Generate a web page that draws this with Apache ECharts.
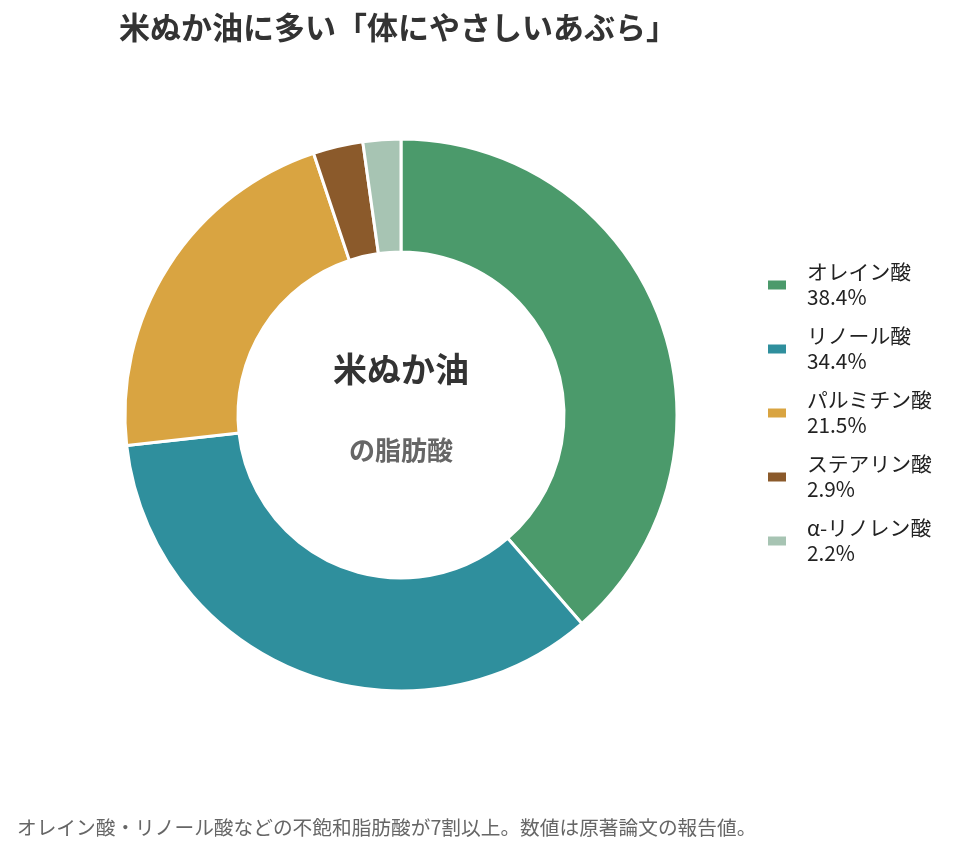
<!DOCTYPE html>
<html>
<head>
<meta charset="utf-8">
<script src="https://cdn.jsdelivr.net/npm/echarts@6/dist/echarts.min.js"></script>
<style>
  html, body { margin: 0; padding: 0; background: #fff; }
  #chart { width: 956px; height: 854px; }
</style>
</head>
<body>
<div id="chart"></div>
<script>
  // 脂肪酸の構成（%）
  var acidNames = ['オレイン酸', 'リノール酸', 'パルミチン酸', 'ステアリン酸', 'α-リノレン酸'];
  var acidValues = [38.4, 34.4, 21.5, 2.9, 2.2];
  var acidColors = ['#4b9a6b', '#2f8f9d', '#d9a441', '#8b5a2b', '#a7c4b3'];

  var FONT = '"Noto Sans CJK JP", "Noto Sans", sans-serif';

  var pieData = acidNames.map(function (n, i) {
    return { name: n, value: acidValues[i], itemStyle: { color: acidColors[i] } };
  });

  var myChart = echarts.init(document.getElementById('chart'));

  var option = {
    backgroundColor: '#ffffff',
    animation: false,
    title: {
      text: '米ぬか油に多い「体にやさしいあぶら」',
      left: 114,
      top: 7,
      textStyle: { fontFamily: FONT, fontSize: 31, fontWeight: 'bold', color: '#333333' }
    },
    legend: {
      orient: 'vertical',
      left: 761,
      top: 255,
      itemWidth: 20,
      itemHeight: 11,
      itemGap: 14,
      icon: 'rect',
      formatter: function (name) {
        var i = acidNames.indexOf(name);
        return name + '\n' + acidValues[i] + '%';
      },
      textStyle: { fontFamily: FONT, fontSize: 20.8, color: '#222222', lineHeight: 25, padding: [0, 0, 0, 15] }
    },
    graphic: [
      {
        type: 'text',
        x: 401, y: 369,
        style: {
          text: '米ぬか油', fontFamily: FONT, fontSize: 34, fontWeight: 'bold',
          fill: '#333333', align: 'center', verticalAlign: 'middle'
        }
      },
      {
        type: 'text',
        x: 401, y: 450,
        style: {
          text: 'の脂肪酸', fontFamily: FONT, fontSize: 26, fontWeight: 'bold',
          fill: '#666666', align: 'center', verticalAlign: 'middle'
        }
      },
      {
        type: 'text',
        x: 17, y: 828,
        style: {
          text: 'オレイン酸・リノール酸などの不飽和脂肪酸が7割以上。数値は原著論文の報告値。',
          fontFamily: FONT, fontSize: 19.7, fill: '#666666', align: 'left', verticalAlign: 'middle'
        }
      }
    ],
    series: [
      {
        type: 'pie',
        center: [401, 415],
        radius: [163, 276],
        startAngle: 90,
        clockwise: true,
        label: { show: false },
        labelLine: { show: false },
        itemStyle: { borderColor: '#ffffff', borderWidth: 3 },
        emphasis: { disabled: true },
        data: pieData
      }
    ]
  };

  myChart.setOption(option);
</script>
</body>
</html>
